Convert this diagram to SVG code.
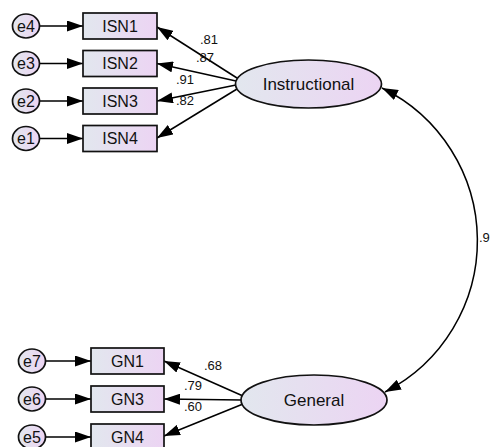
<svg xmlns="http://www.w3.org/2000/svg" width="492" height="447" viewBox="0 0 492 447">
<defs>
<linearGradient id="g" x1="0" y1="0" x2="1" y2="0">
<stop offset="0" stop-color="#e2e7ee"/>
<stop offset="1" stop-color="#ecd4f3"/>
</linearGradient>
<marker id="ah" viewBox="0 0 16 11" refX="16" refY="5.5" markerWidth="16" markerHeight="11" markerUnits="userSpaceOnUse" orient="auto-start-reverse">
<path d="M0,0 L16,5.5 L0,11 z" fill="#000"/>
</marker>
</defs>
<style>
.shape{fill:url(#g);stroke:#111;stroke-width:1.7}
.lbl{font-family:"Liberation Sans",Arial,sans-serif;font-size:16px;fill:#111;text-anchor:middle;dominant-baseline:central}
.big{font-size:17px}
.num{font-family:"Liberation Sans",Arial,sans-serif;font-size:13px;fill:#111}
.ln{stroke:#000;stroke-width:1.5;fill:none;marker-end:url(#ah)}
</style>
<g id="connectors">
<line class="ln" x1="40" y1="26" x2="83" y2="26"/>
<line class="ln" x1="40" y1="63.5" x2="83" y2="63.5"/>
<line class="ln" x1="40" y1="101" x2="83" y2="101"/>
<line class="ln" x1="40" y1="138.5" x2="83" y2="138.5"/>
<line class="ln" x1="46" y1="361" x2="91" y2="361"/>
<line class="ln" x1="46" y1="399" x2="91" y2="399"/>
<line class="ln" x1="46" y1="437" x2="91" y2="437"/>
<line class="ln" x1="237" y1="78" x2="157" y2="27"/>
<line class="ln" x1="236" y1="81" x2="157" y2="63.5"/>
<line class="ln" x1="236" y1="85" x2="157" y2="101"/>
<line class="ln" x1="237" y1="89" x2="157" y2="138"/>
<line class="ln" x1="243" y1="396" x2="164" y2="361"/>
<line class="ln" x1="242" y1="400" x2="164" y2="399"/>
<line class="ln" x1="243" y1="404" x2="164" y2="436"/>
<path class="ln" d="M382,88 A170,170 0 0 1 385,392" marker-start="url(#ah)"/>
<text class="num" x="200" y="44">.81</text>
<text class="num" x="196" y="62">.87</text>
<text class="num" x="176" y="84">.91</text>
<text class="num" x="176" y="105">.82</text>
<text class="num" x="204" y="370">.68</text>
<text class="num" x="184" y="390">.79</text>
<text class="num" x="184" y="411">.60</text>
<text class="num" x="479" y="242">.9</text>
</g>
<g id="e4"><ellipse class="shape" cx="26" cy="26" rx="13.5" ry="12"/><text class="lbl" x="26" y="26">e4</text></g>
<g id="e3"><ellipse class="shape" cx="26" cy="63.5" rx="13.5" ry="12"/><text class="lbl" x="26" y="63.5">e3</text></g>
<g id="e2"><ellipse class="shape" cx="26" cy="101" rx="13.5" ry="12"/><text class="lbl" x="26" y="101">e2</text></g>
<g id="e1"><ellipse class="shape" cx="26" cy="138.5" rx="13.5" ry="12"/><text class="lbl" x="26" y="138.5">e1</text></g>
<g id="ISN1"><rect class="shape" x="83" y="13" width="74" height="26"/><text class="lbl" x="120" y="26">ISN1</text></g>
<g id="ISN2"><rect class="shape" x="83" y="50.5" width="74" height="26"/><text class="lbl" x="120" y="63.5">ISN2</text></g>
<g id="ISN3"><rect class="shape" x="83" y="88" width="74" height="26"/><text class="lbl" x="120" y="101">ISN3</text></g>
<g id="ISN4"><rect class="shape" x="83" y="125.5" width="74" height="26"/><text class="lbl" x="120" y="138.5">ISN4</text></g>
<g id="Instructional"><ellipse class="shape" cx="308.5" cy="84" rx="73" ry="24"/><text class="lbl big" x="308.5" y="84">Instructional</text></g>
<g id="e7"><ellipse class="shape" cx="32" cy="361" rx="13.5" ry="12"/><text class="lbl" x="32" y="361">e7</text></g>
<g id="e6"><ellipse class="shape" cx="32" cy="399" rx="13.5" ry="12"/><text class="lbl" x="32" y="399">e6</text></g>
<g id="e5"><ellipse class="shape" cx="32" cy="437" rx="13.5" ry="12"/><text class="lbl" x="32" y="437">e5</text></g>
<g id="GN1"><rect class="shape" x="91" y="348" width="73" height="26"/><text class="lbl" x="127.5" y="361">GN1</text></g>
<g id="GN3"><rect class="shape" x="91" y="386" width="73" height="26"/><text class="lbl" x="127.5" y="399">GN3</text></g>
<g id="GN4"><rect class="shape" x="91" y="424" width="73" height="26"/><text class="lbl" x="127.5" y="437">GN4</text></g>
<g id="General"><ellipse class="shape" cx="314" cy="400" rx="73" ry="25"/><text class="lbl big" x="314" y="400">General</text></g>
</svg>
